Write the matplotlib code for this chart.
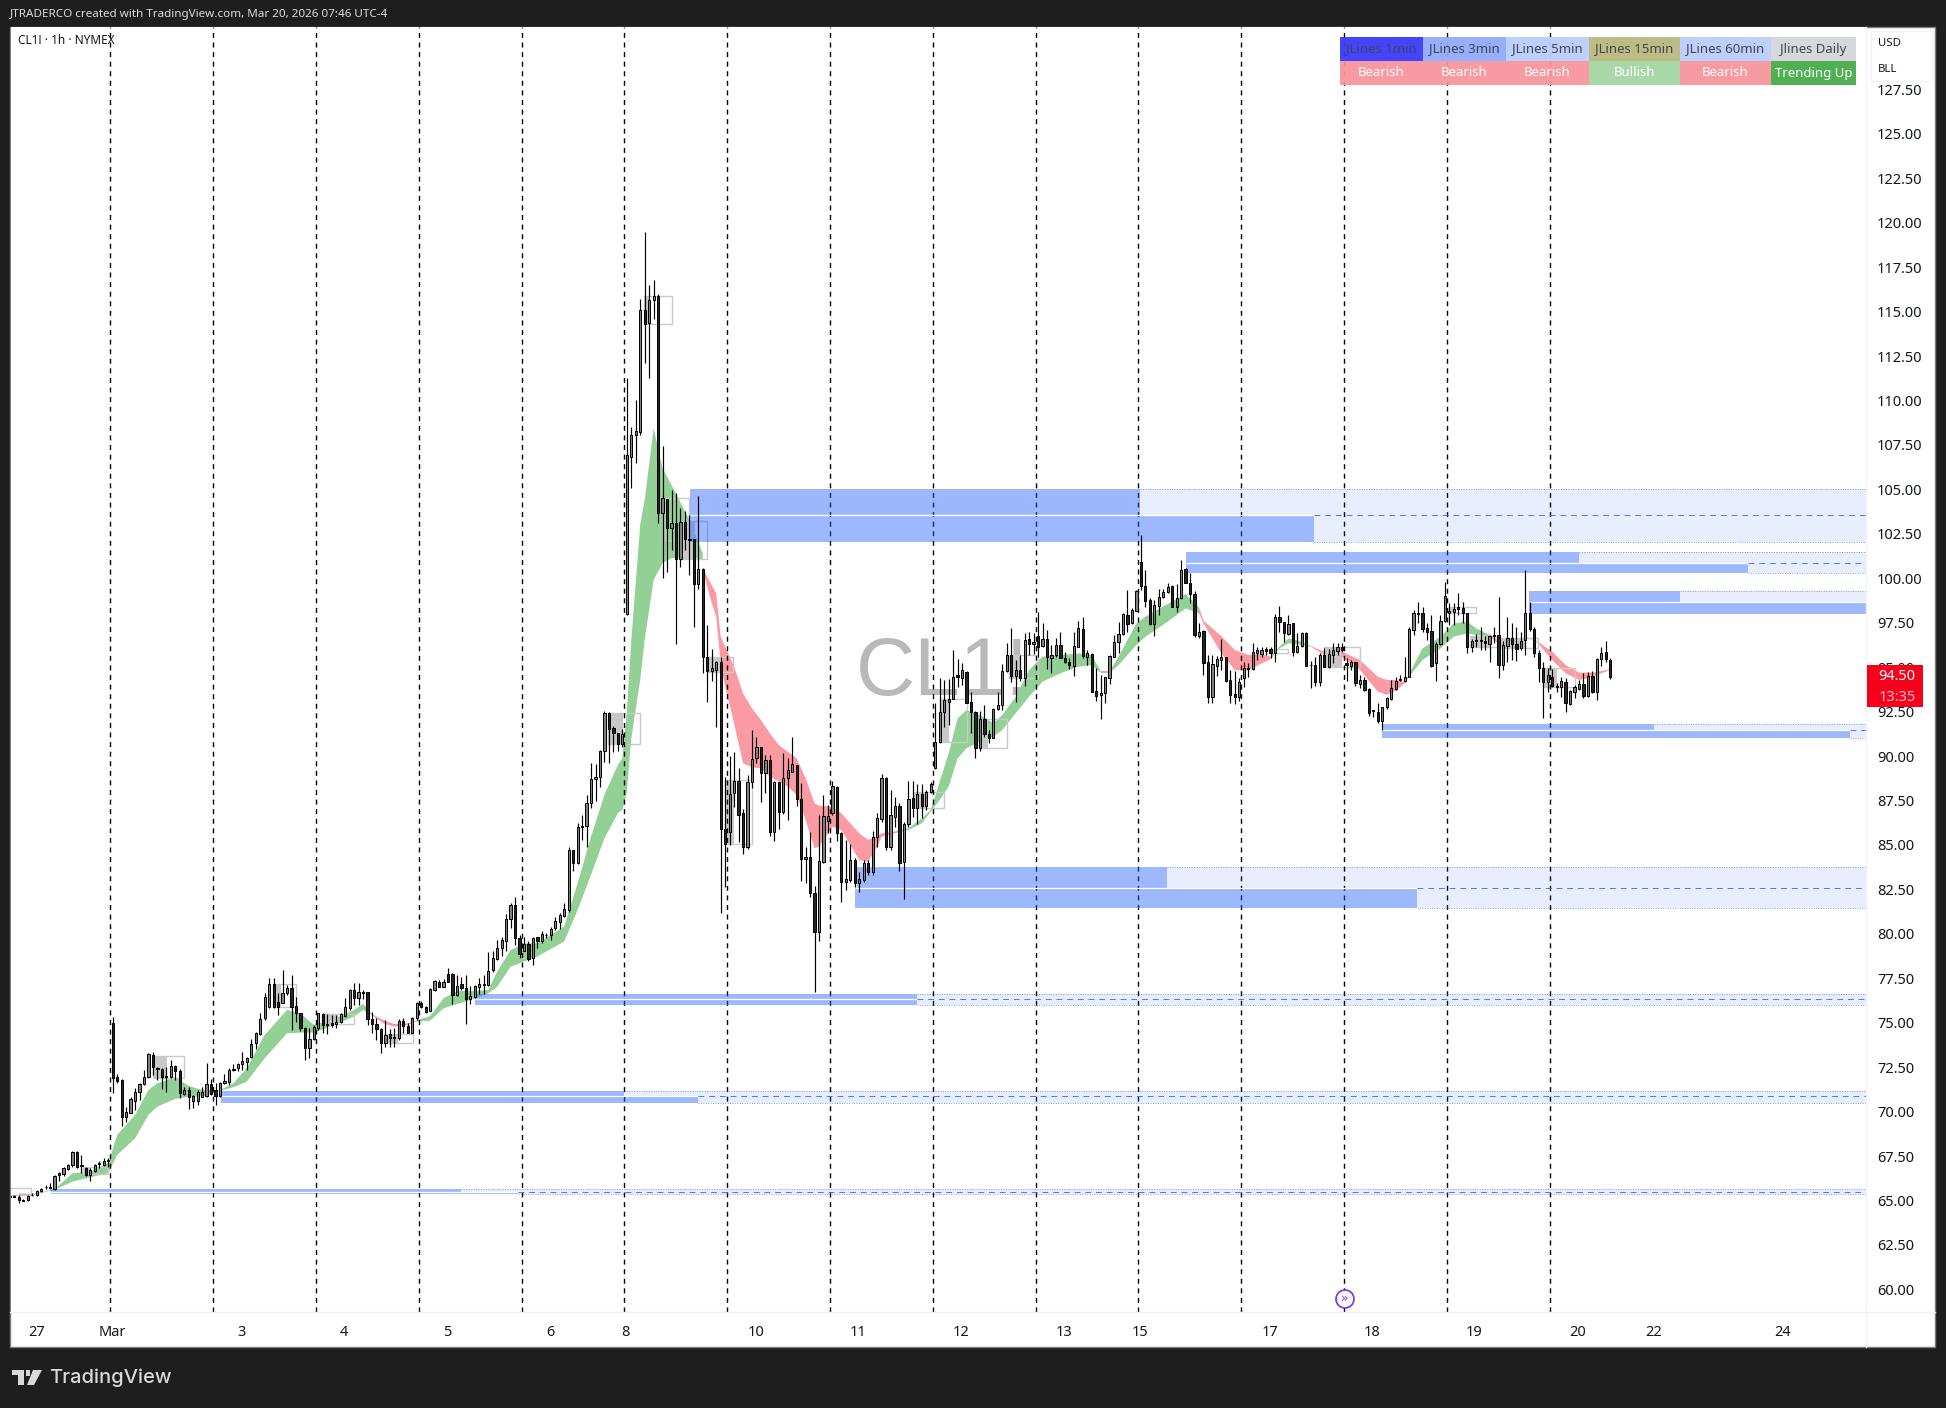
import numpy as np
import matplotlib
matplotlib.use('Agg')
import matplotlib.pyplot as plt
from matplotlib.patches import Rectangle, Polygon, Circle

W, H = 1946, 1408
FONT = 'Noto Sans'

# hourly candles, first bar is index -23, bar 0 is the spike on Mar 1
bar_open = [
    65.30,65.33,65.32,65.13,65.12,65.40,65.40,65.62,65.84,65.86,
    65.75,66.52,66.59,66.87,67.08,67.83,67.10,66.95,66.54,66.78,
    67.17,67.12,67.32,75.04,72.01,71.85,69.77,70.03,70.71,71.21,
    71.62,72.01,73.27,72.56,72.48,72.09,72.01,72.65,72.35,71.08,
    71.30,70.67,70.67,70.93,70.97,71.64,71.30,70.97,71.68,71.77,
    72.44,72.52,72.76,72.89,73.14,73.92,74.44,75.32,75.97,77.24,
    76.22,76.20,76.72,77.00,76.01,75.60,74.76,73.63,74.14,74.76,
    75.54,75.00,75.04,74.98,75.13,75.45,75.88,76.91,76.48,76.79,
    76.79,75.26,74.98,74.70,73.95,74.42,74.25,74.19,75.15,74.91,
    74.51,75.32,76.16,75.97,75.75,76.91,77.37,77.09,77.78,77.78,
    76.63,77.22,77.00,76.42,76.53,77.09,77.22,77.19,78.03,78.64,
    79.25,79.68,80.88,81.65,79.81,79.12,79.48,78.69,79.87,79.68,
    79.98,80.00,80.36,80.71,81.08,81.37,84.77,84.02,86.07,86.08,
    87.37,88.73,88.84,90.30,92.43,91.59,91.31,90.71,97.99,106.83,
    108.01,108.23,115.05,114.31,115.60,115.84,103.69,104.44,102.81,103.09,
    101.07,103.18,102.19,102.19,99.69,100.50,95.57,94.78,94.88,95.29,
    85.92,85.76,87.98,88.65,86.82,84.91,88.60,89.91,90.52,89.06,
    89.81,85.79,88.56,86.91,88.78,89.16,89.51,87.61,84.24,84.35,
    82.33,80.18,84.11,86.41,86.82,88.30,85.70,82.99,83.08,84.20,
    82.90,83.08,84.02,83.55,85.47,86.50,88.78,84.95,86.63,87.23,
    84.11,86.20,87.66,87.14,87.90,87.25,88.00,89.34,90.84,92.48,
    93.08,93.25,94.55,94.42,94.76,93.04,92.52,90.46,92.11,91.25,
    91.06,92.65,92.87,94.80,95.70,94.54,94.85,94.39,96.57,96.29,
    96.76,96.22,96.57,95.55,95.68,96.26,95.51,95.28,95.10,96.16,
    97.13,95.60,95.73,93.68,93.43,93.59,94.39,95.60,96.41,96.86,
    97.94,97.47,98.18,100.89,99.57,98.78,97.44,98.45,98.93,99.25,
    99.55,98.41,98.88,100.50,99.72,99.12,96.76,97.04,95.29,93.32,
    95.10,95.44,95.57,94.30,93.51,93.36,94.39,94.95,94.89,95.83,
    95.77,96.02,96.02,95.83,97.81,97.53,96.86,97.47,95.89,96.20,
    96.93,95.16,95.14,94.20,95.70,95.04,95.70,95.92,96.15,95.27,
    95.08,95.29,94.07,94.28,93.77,92.60,92.50,92.02,92.76,93.23,
    93.79,94.33,94.26,94.48,97.10,98.03,98.03,97.19,97.06,95.23,
    96.30,97.62,98.03,98.13,98.37,98.35,98.03,96.17,96.54,96.54,
    96.48,96.30,96.80,96.82,95.14,96.22,96.63,96.32,96.07,96.52,
    98.03,97.14,95.79,94.95,94.20,94.48,93.96,93.92,94.17,92.95,
    93.64,93.81,94.07,93.42,94.52,93.64,95.46,95.85,95.42,
]
bar_high = [
    65.38,65.40,65.42,65.18,65.42,65.50,65.70,65.83,65.98,66.11,
    66.54,66.72,67.00,67.15,67.90,67.90,67.66,67.00,66.91,67.15,
    67.30,67.47,67.47,75.38,72.18,71.90,70.33,70.89,71.40,71.68,
    72.42,73.40,73.42,72.61,72.52,72.61,72.99,72.70,72.46,71.45,
    71.45,71.02,71.30,71.45,72.80,71.90,71.68,71.77,72.20,72.52,
    72.74,72.84,73.42,73.17,74.16,74.56,75.60,76.72,77.60,77.56,
    76.72,78.03,77.19,77.75,76.53,75.63,74.81,74.76,74.94,75.60,
    75.60,75.54,75.50,75.50,75.63,76.44,76.94,77.28,77.28,76.91,
    76.81,75.69,75.32,74.76,75.22,74.70,74.76,75.26,75.32,75.04,
    75.37,76.25,76.29,76.01,77.00,77.47,77.47,77.50,78.12,77.84,
    77.75,77.65,77.75,77.13,77.19,77.56,77.75,79.06,79.11,79.71,
    79.91,81.18,81.78,82.15,80.00,79.91,79.63,79.91,79.91,80.22,
    80.13,80.47,81.03,81.22,81.78,84.92,84.77,86.26,86.73,87.85,
    89.63,89.59,90.37,92.58,92.49,91.72,91.35,91.53,111.22,108.51,
    110.01,115.67,119.43,116.46,116.74,115.95,107.43,104.44,104.96,104.77,
    103.93,103.78,103.56,102.19,104.59,100.56,97.38,96.02,95.38,95.61,
    88.88,90.04,90.24,89.34,87.05,88.97,91.49,91.08,90.56,90.09,
    90.09,88.65,88.60,90.19,89.91,91.08,89.53,88.50,84.95,85.79,
    82.75,86.73,87.85,87.29,88.65,88.35,85.79,85.33,85.10,84.30,
    83.55,84.20,84.20,85.85,86.82,89.01,88.84,88.13,87.75,87.38,
    86.35,88.63,88.65,88.45,88.47,88.13,88.60,92.98,94.39,94.29,
    94.33,95.98,95.45,95.27,94.80,93.64,92.57,92.55,92.89,91.49,
    92.70,93.64,95.19,96.35,97.19,95.41,95.70,96.91,97.00,96.91,
    98.13,97.47,97.10,96.26,96.63,97.00,95.88,95.51,97.00,97.62,
    97.81,95.98,95.79,94.95,94.57,94.48,95.70,96.82,97.57,98.03,
    99.34,98.35,99.34,102.43,100.46,98.88,98.78,99.38,99.40,99.75,
    99.62,99.66,101.03,100.56,100.28,99.31,97.51,97.10,95.70,95.70,
    95.64,96.58,95.60,94.86,94.82,94.39,95.29,95.23,96.35,96.17,
    96.17,96.17,96.17,98.00,98.45,97.57,97.94,97.51,96.91,97.01,
    97.01,95.38,95.60,95.79,96.07,96.02,96.35,96.35,96.35,95.51,
    95.42,95.32,94.58,94.48,93.83,92.61,92.99,92.76,93.36,94.30,
    94.48,94.58,95.60,97.29,98.22,98.69,98.41,97.47,97.94,96.45,
    97.94,99.81,98.60,98.63,99.16,98.69,98.03,96.58,96.86,97.25,
    96.76,96.82,97.29,98.93,96.50,97.81,97.47,97.29,97.01,100.46,
    98.69,97.25,95.98,95.32,94.95,94.89,94.15,94.48,94.39,93.74,
    94.02,94.30,94.67,94.76,94.82,95.51,96.17,96.49,95.51,
]
bar_low = [
    65.25,65.28,64.95,65.05,65.08,65.33,65.36,65.58,65.73,65.73,
    65.70,66.22,66.48,66.82,67.00,66.91,66.63,66.50,66.22,66.72,
    66.95,67.06,67.00,71.15,71.68,69.28,69.53,69.99,70.18,70.74,
    71.58,71.96,72.15,71.86,71.36,71.21,71.96,71.86,70.87,71.02,
    70.22,70.27,70.46,70.89,70.93,71.02,70.48,70.93,71.64,71.58,
    72.37,72.37,72.42,72.42,73.08,73.58,74.39,75.23,75.88,75.88,
    75.51,76.16,76.63,74.66,75.13,74.63,72.98,73.07,74.10,74.66,
    74.48,74.44,74.85,74.76,75.04,75.37,75.78,76.06,76.06,76.38,
    74.94,74.48,74.10,73.35,73.73,73.73,73.73,74.10,74.48,74.48,
    74.48,75.22,75.88,75.60,75.71,76.85,77.06,77.06,77.34,76.12,
    76.57,76.91,75.00,76.12,76.44,76.68,76.66,77.15,77.93,78.59,
    78.82,79.12,80.37,79.44,78.69,79.07,78.56,78.32,79.25,79.53,
    79.81,79.72,80.28,80.32,81.03,81.27,83.61,83.98,85.33,84.95,
    87.10,87.53,88.28,89.72,89.63,90.23,90.34,90.56,97.95,105.09,
    106.46,108.04,112.06,111.22,114.55,103.09,100.04,100.38,101.56,96.30,
    100.66,101.56,100.16,97.26,99.39,94.71,93.08,94.26,91.68,81.25,
    82.71,85.04,87.16,85.23,84.52,84.80,88.22,89.66,87.48,87.94,
    85.57,85.29,85.94,86.78,86.45,89.12,87.23,83.03,82.90,82.15,
    76.82,79.68,84.02,85.70,86.73,85.29,81.87,82.52,82.99,82.71,
    82.43,82.99,83.36,83.36,84.95,86.35,84.76,84.76,86.07,83.61,
    82.02,86.07,86.63,86.22,86.54,87.01,87.94,89.28,90.78,91.68,
    91.77,93.21,93.92,94.01,92.98,91.34,89.94,90.31,91.12,90.74,
    91.02,92.61,92.61,94.76,94.20,93.08,94.26,93.96,95.70,95.73,
    95.60,96.16,94.89,94.70,95.60,95.51,95.23,94.89,94.52,96.13,
    95.51,95.13,93.60,93.13,92.09,93.00,94.05,95.57,95.83,96.82,
    97.01,97.42,98.17,99.34,98.41,97.38,96.78,97.94,98.91,99.19,
    98.37,98.13,98.84,99.72,98.60,96.69,96.63,94.58,93.03,93.03,
    94.52,94.86,94.20,93.03,92.95,93.12,93.92,94.48,94.86,95.42,
    95.60,95.70,95.51,95.32,97.01,96.45,96.82,95.66,95.79,96.17,
    95.08,93.87,93.96,93.98,95.01,94.95,95.23,95.70,95.89,94.24,
    94.86,93.96,93.83,93.70,92.28,92.24,91.90,91.49,92.67,93.18,
    93.74,94.24,94.20,94.48,96.82,97.47,97.01,96.54,95.04,94.24,
    96.26,97.57,97.38,97.38,97.94,97.47,95.79,95.89,96.17,95.98,
    95.98,95.32,96.35,94.43,94.86,95.32,95.42,95.38,95.98,95.70,
    97.06,95.60,94.20,92.15,93.64,93.92,93.64,93.36,92.52,92.90,
    93.27,93.74,93.31,93.36,93.59,93.18,95.08,95.33,94.34,
]
bar_close = [
    65.33,65.32,65.13,65.10,65.36,65.43,65.64,65.77,65.87,65.83,
    66.50,66.65,66.93,67.10,67.83,66.97,67.06,66.54,66.82,67.08,
    67.21,67.30,67.36,71.99,71.83,69.77,70.05,70.78,71.21,71.62,
    72.01,73.32,72.57,72.46,72.05,72.01,72.65,72.35,71.12,71.30,
    70.93,70.97,71.21,71.17,71.64,71.06,70.97,71.68,71.79,72.42,
    72.48,72.76,72.93,73.10,73.86,74.48,75.27,76.50,77.24,75.97,
    75.97,76.72,77.00,75.97,75.60,74.76,73.63,74.14,74.81,75.60,
    74.94,74.94,74.92,75.13,75.56,75.93,76.91,76.48,76.79,76.76,
    75.26,74.98,74.70,73.91,74.38,74.23,74.21,75.19,74.91,74.51,
    75.32,76.16,75.93,75.67,76.94,77.41,77.09,77.37,77.37,76.63,
    77.13,77.00,76.40,76.57,77.13,77.22,77.17,77.99,78.68,79.24,
    79.72,80.88,81.68,79.81,78.92,79.50,78.66,79.85,79.68,80.04,
    80.02,80.32,80.77,81.12,81.44,84.77,84.02,86.06,86.11,87.38,
    88.73,88.84,90.32,92.43,91.57,91.35,90.69,91.27,106.92,108.04,
    108.27,115.05,114.25,115.61,115.84,103.65,104.49,102.81,103.09,101.07,
    103.18,102.19,102.14,99.69,100.51,95.61,94.78,94.95,95.29,85.92,
    85.08,87.89,88.65,86.75,84.91,88.60,89.85,90.52,89.06,89.81,
    85.79,88.60,86.91,88.78,89.25,89.57,87.61,84.24,84.35,82.37,
    80.18,84.15,86.67,86.67,88.35,85.70,82.99,83.12,84.20,82.90,
    83.12,84.02,83.53,85.51,86.54,88.78,84.95,86.73,87.23,84.05,
    86.20,87.62,87.14,87.90,87.25,88.00,88.45,90.80,92.48,93.17,
    93.21,94.48,94.48,94.85,93.02,92.52,90.46,92.11,91.25,91.06,
    92.65,92.87,94.80,95.70,94.54,94.85,94.39,96.54,96.29,96.42,
    96.16,96.57,95.56,95.70,96.26,95.55,95.28,95.13,96.20,97.19,
    95.66,95.79,93.64,93.40,93.55,94.45,95.66,96.41,96.86,97.98,
    97.42,98.22,99.29,99.57,98.75,97.44,98.50,98.93,99.21,99.49,
    98.41,98.88,100.46,99.75,99.12,96.84,96.99,95.23,93.32,95.19,
    95.46,95.59,94.26,93.46,93.36,94.20,94.97,94.89,95.89,95.98,
    95.98,95.94,95.83,97.81,97.53,96.91,97.42,95.89,96.20,96.95,
    95.10,95.12,94.17,95.70,95.04,95.75,95.98,96.13,95.98,95.14,
    95.29,94.11,94.28,93.74,92.43,92.56,92.02,92.76,93.27,93.83,
    94.26,94.30,94.48,97.14,98.03,98.00,97.16,97.01,95.10,96.30,
    97.62,99.03,98.18,98.26,98.30,98.03,96.17,96.48,96.50,96.50,
    96.35,96.76,96.76,95.14,96.26,96.63,96.30,96.05,96.48,98.07,
    97.14,95.79,94.95,94.20,94.58,93.98,93.92,94.24,92.99,93.68,
    93.90,94.07,93.42,94.52,93.64,95.46,95.83,95.46,94.49,
]

# moving average ribbon, bull 1 = green, 0 = red
ribbon_x = [-21,-18,-18,-13,-9,-5,-1,1,5,8,10,14,17,20,24,27,30,34,39,42,45,49,54,56,58,
            58,60.5,63,66,68,
            68,71,74,77,81,84,86,89,92,95,101,104,107,110,113,114,115,116,118,119,121,123,125,129,132,
            132,134,135,136,137,139,141,143,145,147,149,151,153,155,157,158,161,163,167,169,171,172,175,
            175,178,181,183,185,187,189,191,194,197,199,202,205,208,212,216,219,221,
            221,223,
            223,225,227,229,231,236,240,243,
            243,244,246,248,251,254,257,259,
            259,261,263,266,268,
            268,271,275,279,283,285,287,289,
            289,290,293,297,300,303,305,308,
            308,310,313,315,
            315,316,318,319,
            319,322,325,328,331,333,335]
ribbon_hi = [65.51,65.46,65.46,65.74,66.63,66.72,67.19,68.78,69.90,71.30,71.68,72.01,71.53,71.30,71.30,71.68,72.52,74.39,75.79,75.60,74.95,75.23,75.79,76.13,75.56,
             75.56,75.23,75.00,75.04,75.20,
             75.22,75.45,76.44,76.85,76.85,76.91,77.93,79.15,79.53,79.53,80.47,82.90,85.51,87.85,89.53,89.91,92.50,96.50,103.00,104.40,108.42,106.18,105.24,103.28,101.40,
             100.55,99.62,99.16,96.73,96.17,95.05,93.55,92.71,92.06,91.31,90.65,90.28,89.91,88.78,87.38,87.25,87.19,86.82,85.70,85.33,85.51,85.70,85.80,
             85.80,85.98,86.54,87.01,88.60,90.18,92.15,92.61,92.33,91.87,92.33,93.36,94.86,95.61,95.69,95.79,95.70,94.80,
             94.80,94.80,
             94.80,95.60,96.54,97.47,97.85,98.56,99.12,98.37,
             98.37,97.62,97.19,96.76,95.98,95.70,95.75,95.60,
             95.60,96.17,96.63,96.45,96.20,
             96.20,95.88,95.88,95.42,94.48,94.30,94.30,94.20,
             94.20,94.63,96.07,96.73,97.47,97.57,97.19,96.82,
             96.82,96.50,96.46,96.60,
             96.60,96.69,96.60,96.40,
             96.40,95.89,95.14,94.71,94.71,94.80,94.90]
ribbon_lo = [65.42,65.38,65.40,65.70,66.16,66.41,66.63,67.66,68.59,69.90,70.37,70.80,70.93,70.93,71.26,71.45,71.77,73.08,74.48,74.52,74.52,74.89,75.42,75.79,75.50,
             75.50,75.04,74.85,74.95,75.15,
             75.13,75.19,75.88,76.12,76.44,76.72,77.09,78.21,78.51,78.79,79.63,81.40,83.37,85.42,86.82,87.01,88.00,91.00,94.30,96.55,99.91,100.85,101.13,101.22,101.03,
             100.45,98.60,97.85,95.23,93.92,91.87,89.62,89.40,89.34,88.88,88.60,88.32,87.85,86.45,84.86,84.95,86.07,85.88,84.20,84.11,84.95,85.51,85.70,
             85.70,85.88,86.26,86.91,87.57,88.32,89.90,90.47,90.84,91.12,91.49,92.43,93.36,94.20,94.67,95.04,95.13,94.70,
             94.70,94.70,
             94.70,95.13,95.70,96.26,96.72,97.57,98.31,98.03,
             98.03,97.47,96.63,95.79,94.86,94.82,95.23,95.46,
             95.46,96.07,96.35,96.26,96.16,
             96.16,95.70,95.57,94.86,93.64,93.46,93.70,94.11,
             94.11,94.48,95.42,96.07,96.73,96.91,96.82,96.73,
             96.73,96.35,96.32,96.55,
             96.55,96.62,96.55,96.30,
             96.30,95.42,94.67,94.30,94.45,94.67,94.86]
ribbon_bull = [0,0,1,1,1,1,1,1,1,1,1,1,1,1,1,1,1,1,1,1,1,1,1,1,1,
               0,0,0,0,0,
               1,1,1,1,1,1,1,1,1,1,1,1,1,1,1,1,1,1,1,1,1,1,1,1,1,
               0,0,0,0,0,0,0,0,0,0,0,0,0,0,0,0,0,0,0,0,0,0,0,
               1,1,1,1,1,1,1,1,1,1,1,1,1,1,1,1,1,1,
               0,0,
               1,1,1,1,1,1,1,1,
               0,0,0,0,0,0,0,0,
               1,1,1,1,1,
               0,0,0,0,0,0,0,0,
               1,1,1,1,1,1,1,1,
               0,0,0,0,
               1,1,1,1,
               0,0,0,0,0,0,0]

# blue zones
zone_top_start = [129.2,240.1,316.9,283.9,166.5,81.1,24.2,-13.8]
zone_bot_start = [129.2,240.1,316.9,283.9,166.0,81.1,24.2,-13.8]
zone_top_end = [229.7,327.9,350.6,344.8,235.9,179.9,114.4,77.9]
zone_bot_end = [268.8,365.7,392.2,388.7,291.8,179.9,131.0,90.7]
zone_hi = [105.02,101.45,99.29,91.85,83.83,76.71,71.27,65.76]
zone_mid = [103.54,100.88,98.65,91.47,82.64,76.38,70.94,65.60]
zone_lo = [102.01,100.30,98.00,91.03,81.53,76.06,70.58,65.48]

# gray boxes
box_x0 = [-23,-6.6,9.1,35.9,46.8,60.6,110.9,118.9,123.5,127,133,137,179,185,194,200.4,258.6,270.9,299,303.6,310,320]
box_fill = [-23,-4.8,12.1,37.7,50.3,63.9,114.2,120,123.5,130.2,135.9,138.9,182,187,195.9,203,258.6,275,300,308,316,323]
box_x1 = [-18.3,-1,16,41,54,67.1,118,125,129,133,138.8,143,186,191,200,207,262.9,279,305,309.6,318.8,327]
box_hi = [65.79,66.97,73.23,77.24,75.55,74.42,92.43,115.84,104.49,103.22,95.57,88.69,88.00,93.21,92.11,95.70,96.02,96.13,98.37,96.78,96.63,94.95]
box_lo = [65.42,66.59,72.00,75.97,74.98,73.96,90.69,114.25,102.15,101.07,94.77,85.08,87.14,90.84,90.46,94.39,95.79,95.04,98.03,96.17,96.07,93.92]

session_lines = [-0.54,22.46,45.46,68.46,91.46,114.46,137.46,160.46,183.46,206.46,229.46,252.46,275.46,298.46,321.46]
y_ticks = [60,62.5,65,67.5,70,72.5,75,77.5,80,82.5,85,87.5,90,92.5,95,97.5,100,102.5,105,107.5,110,112.5,115,117.5,120,122.5,125,127.5]
x_ticks = [-17,0,28.9,51.7,74.8,97.8,114.7,143.9,166.8,189.8,212.7,229.9,258.8,281.6,304.6,327.6,344.6,373.5]
x_labels = ['27','Mar','3','4','5','6','8','10','11','12','13','15','17','18','19','20','22','24']

table_head = ['JLines 1min','JLines 3min','JLines 5min','JLines 15min','JLines 60min','Jlines Daily']
table_state = ['Bearish','Bearish','Bearish','Bullish','Bearish','Trending Up']
head_colors = ['#3a3afd','#8fabfc','#b9cdfd','#b9ba7d','#b9cdfd','#d4d6d9']
state_colors = ['#f8959c','#f8959c','#f8959c','#a3d5a3','#f8959c','#46ac4a']
table_edges = [1340,1423,1506,1589,1679.5,1771,1856]


def fx(px):
    return px / W


def fy(py):
    return 1 - py / H


fig = plt.figure(figsize=(W / 100, H / 100), dpi=100, facecolor='#1e1e1e')
fig.patches.append(Rectangle((fx(10), fy(1347)), 1925 / W, 1320 / H, transform=fig.transFigure,
                             facecolor='white', edgecolor='#7c7c7c', lw=1, zorder=-1))

ax = fig.add_axes([fx(11), fy(1312), (1866 - 11) / W, (1312 - 27) / H], facecolor='white')
ax.set_xlim(-22.75, 392.2)
ax.set_ylim(58.85, 130.92)
for s in ax.spines.values():
    s.set_visible(False)

# watermark
ax.text(166.2, 94.62, 'CL1!', fontsize=59, family='Liberation Sans', color='#b9b9b9',
        ha='left', va='center', zorder=1)

# ribbon
rx = np.array(ribbon_x)
rh = np.array(ribbon_hi)
rl = np.array(ribbon_lo)
bull = np.array(ribbon_bull) == 1
ax.fill_between(rx, rl, rh, where=bull, color='#93d096', lw=0, zorder=2)
ax.fill_between(rx, rl, rh, where=~bull, color='#fc9aa3', lw=0, zorder=2)

# gray boxes
for i in range(len(box_x0)):
    ax.add_patch(Rectangle((box_x0[i], box_lo[i]), box_x1[i] - box_x0[i], box_hi[i] - box_lo[i],
                           facecolor='none', edgecolor='#c9c9c9', lw=1, zorder=2.5))
    if box_fill[i] > box_x0[i]:
        ax.add_patch(Rectangle((box_x0[i], box_lo[i]), box_fill[i] - box_x0[i], box_hi[i] - box_lo[i],
                               facecolor='#c8c8c8', edgecolor='none', zorder=2.5))

# session lines
ax.vlines(session_lines, 58.85, 130.92, color='black', lw=1, linestyles=[(0, (3.6, 3.3))], zorder=3)

# zones
BLUE = '#2962ff'
RIGHT = 392.2
for i in range(len(zone_hi)):
    hi, mid, lo = zone_hi[i], zone_mid[i], zone_lo[i]
    ts, bs, te, be = zone_top_start[i], zone_bot_start[i], zone_top_end[i], zone_bot_end[i]
    ax.add_patch(Rectangle((ts, mid), te - ts, hi - mid, facecolor=BLUE, alpha=0.45, lw=0, zorder=4))
    ax.add_patch(Rectangle((bs, lo), be - bs, mid - lo, facecolor=BLUE, alpha=0.45, lw=0, zorder=4))
    ax.add_patch(Rectangle((te, mid), RIGHT - te, hi - mid, facecolor=BLUE, alpha=0.10, lw=0, zorder=4))
    ax.hlines(hi, te, RIGHT, color=BLUE, lw=0.7, alpha=0.6, linestyles=[(0, (1, 1.5))], zorder=4.2)
    ax.hlines(mid, min(ts, bs), be, color='white', lw=0.9, zorder=4.1)
    if be < RIGHT:
        ax.add_patch(Rectangle((be, lo), RIGHT - be, mid - lo, facecolor=BLUE, alpha=0.10, lw=0, zorder=4))
        ax.hlines(lo, be, RIGHT, color=BLUE, lw=0.7, alpha=0.6, linestyles=[(0, (1, 1.5))], zorder=4.2)
        ax.hlines(mid, be, RIGHT, color=BLUE, lw=0.7, alpha=0.85, linestyles=[(0, (6, 5))], zorder=4.2)

# candles
idx = np.arange(-23, -23 + len(bar_open))
op = np.array(bar_open)
hi_ = np.array(bar_high)
lo_ = np.array(bar_low)
cl = np.array(bar_close)
ax.vlines(idx, lo_, hi_, color='black', lw=0.85, zorder=5)
colors = ['#808080' if c >= o else '#262626' for o, c in zip(op, cl)]
ax.bar(idx, np.abs(cl - op), bottom=np.minimum(op, cl), width=0.5, color=colors,
       edgecolor='black', linewidth=0.7, zorder=6)

# axes text, labels sit a touch off the price read-out scale
ax.yaxis.tick_right()
ax.set_yticks([v + (100 - v) * 0.003 for v in y_ticks])
ax.set_yticklabels([f'{v:.2f}' for v in y_ticks], fontsize=10.5, family=FONT, color='#131722', ha='left')
ax.set_xticks(x_ticks)
ax.set_xticklabels(x_labels, fontsize=10.5, family=FONT, color='#131722')
ax.get_xticklabels()[1].set_fontweight('bold')
ax.tick_params(axis='both', length=0)
ax.tick_params(axis='y', pad=8)
ax.tick_params(axis='x', pad=9)

# axis separators
fig.add_artist(plt.Line2D([fx(1866), fx(1866)], [fy(27), fy(1347)], color='#f0f3fa', lw=1))
fig.add_artist(plt.Line2D([fx(10), fx(1935)], [fy(1312), fy(1312)], color='#f0f3fa', lw=1))

# table top right
for i in range(6):
    x0, x1 = table_edges[i], table_edges[i + 1]
    fig.patches.append(Rectangle((fx(x0), fy(61)), (x1 - x0) / W, 24 / H, transform=fig.transFigure,
                                 facecolor=head_colors[i], alpha=0.95, lw=0, zorder=2))
    fig.patches.append(Rectangle((fx(x0), fy(85)), (x1 - x0) / W, 24 / H, transform=fig.transFigure,
                                 facecolor=state_colors[i], alpha=0.95, lw=0, zorder=2))
    fig.text(fx((x0 + x1) / 2), fy(49), table_head[i], ha='center', va='center', fontsize=9.5,
             family=FONT, color='#434651', zorder=3)
    fig.text(fx((x0 + x1) / 2), fy(73), table_state[i], ha='center', va='center', fontsize=9.5,
             family=FONT, color='white', zorder=3)

# currency box
fig.patches.append(Rectangle((fx(1871), fy(81)), 61 / W, 50 / H, transform=fig.transFigure,
                             facecolor='white', edgecolor='#f0f3fa', lw=1, zorder=2))
fig.text(fx(1878), fy(44), 'USD', ha='left', va='center', fontsize=8.2, family=FONT, color='#131722', zorder=3)
fig.text(fx(1878), fy(70), 'BLL', ha='left', va='center', fontsize=8.2, family=FONT, color='#131722', zorder=3)

# last price tag
fig.patches.append(Rectangle((fx(1867), fy(707)), 56 / W, 42 / H, transform=fig.transFigure,
                             facecolor='#f7001a', lw=0, zorder=2))
fig.text(fx(1897), fy(677), '94.50', ha='center', va='center', fontsize=10.5, family=FONT, color='white', zorder=3)
fig.text(fx(1897), fy(697), '13:35', ha='center', va='center', fontsize=10.5, family=FONT, color='#fdc2c8', zorder=3)

# header and footer
fig.text(fx(10), fy(14), 'JTRADERCO created with TradingView.com, Mar 20, 2026 07:46 UTC-4', ha='left', va='center',
         fontsize=8.4, family=FONT, color='#dbdbdb')
fig.text(fx(18), fy(41), 'CL1! · 1h · NYMEX', ha='left', va='center', fontsize=8.5, family=FONT, color='#131722')
fig.text(fx(49), fy(1378), 'TradingView', ha='left', va='center', fontsize=14.5, family='Inter',
         fontweight='medium', color='#d9d9d9')
logo = [[(12, 1370), (24, 1370), (24, 1385), (18, 1385), (18, 1375), (12, 1375)],
        [(42, 1370), (34, 1385), (27, 1385), (33, 1370)]]
for pts in logo:
    fig.patches.append(Polygon([(fx(a), fy(b)) for a, b in pts], closed=True, transform=fig.transFigure,
                               facecolor='#d9d9d9', lw=0))
fig.patches.append(Rectangle((fx(25.5), fy(1376)), 5 / W, 6 / H, transform=fig.transFigure, facecolor='#d9d9d9', lw=0))

# small marker at the bottom
fig.add_artist(Circle((1345, H - 1299), 9, transform=None, facecolor='white', edgecolor='#7b2ff7', lw=1.2))
fig.text(fx(1345), fy(1298.5), '»', ha='center', va='center', fontsize=9, color='#7b2ff7', family='DejaVu Sans')

fig.savefig('out.png', dpi=100, facecolor=fig.get_facecolor())
